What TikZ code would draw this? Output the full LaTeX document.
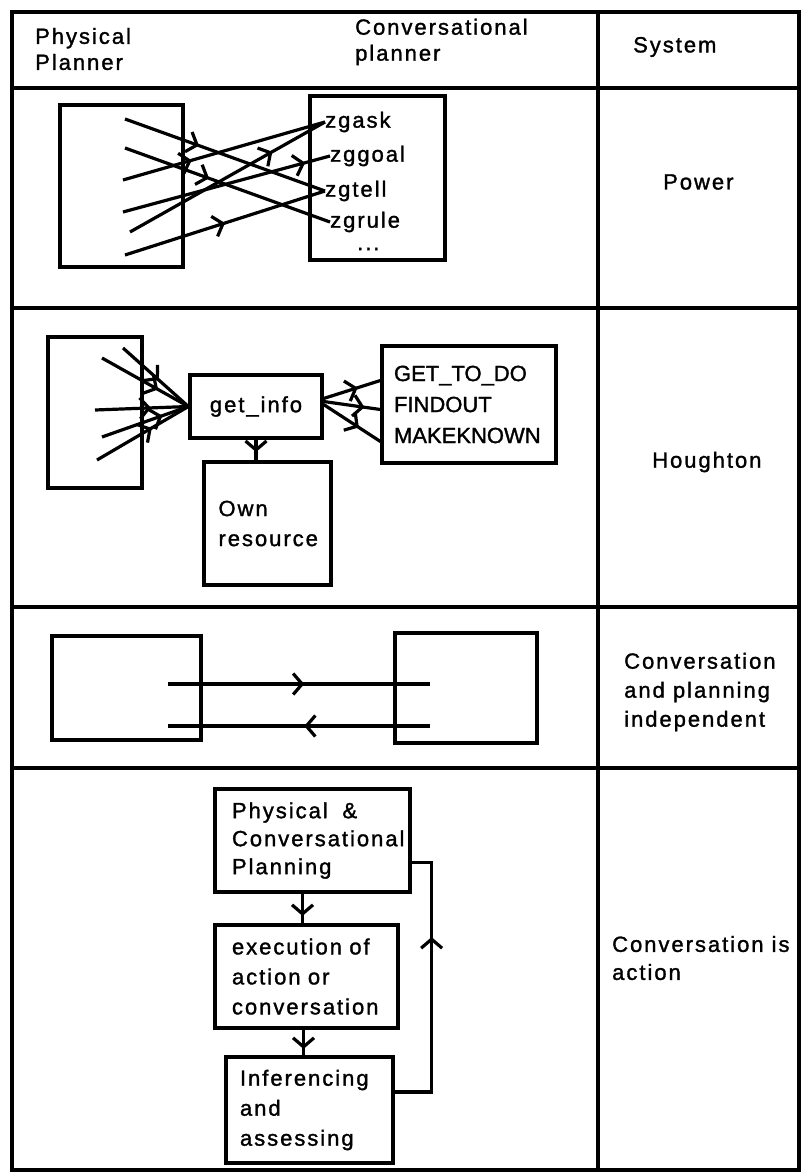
\documentclass[tikz,border=0pt]{standalone}
\usepackage{fontspec}
\newfontfamily\tabfont[LetterSpace=9, FakeBold=1.4]{Liberation Sans}
\newfontfamily\tabcond[FakeBold=1.4]{Liberation Sans}
\definecolor{tabInk}{RGB}{0, 0, 0}
\usetikzlibrary{arrows.meta, decorations.markings, positioning}
\tikzset{
  tabline/.style={line width=3.4pt, draw=tabInk},
  celltext/.style={anchor=west, inner sep=0pt, align=left, text=tabInk, font=\tabfont\fontsize{22}{29}\selectfont},
  plainbox/.style={rectangle, draw=tabInk, line width=3.2pt, align=left, text=tabInk, font=\tabfont\fontsize{22}{30}\selectfont},
  flowline/.style={line width=3.2pt, draw=tabInk, postaction={decorate},
    decoration={markings, mark=at position #1 with {\arrow{Straight Barb[length=9pt, width=21pt, line width=3.2pt]}}}},
  flowline/.default=0.5,
}

\begin{document}
\begin{tikzpicture}[x=1pt, y=-1pt]
  \useasboundingbox (0,0) rectangle (802,1174);

  % table
  \draw[tabline] (12,12) rectangle (799,1170);
  \draw[tabline] (12,88) -- (799,88);
  \draw[tabline] (12,308) -- (799,308);
  \draw[tabline] (12,607) -- (799,607);
  \draw[tabline] (12,768) -- (799,768);
  \draw[tabline] (598,12) -- (598,1170);

  % header
  \node[celltext, font=\tabfont\fontsize{22}{26}\selectfont] (phys) at (35,49) {Physical\\Planner};
  \node[celltext, font=\tabfont\fontsize{22}{26}\selectfont] (conv) at (355,42) {Conversational\\planner};
  \node[celltext] (sys) at (633,47) {System};

  % Power
  \node[plainbox, minimum width=123pt, minimum height=162pt] (pp1) at (121.5,186) {};
  \node[plainbox, minimum width=135pt, minimum height=164pt] (cp1) at (377.5,178) {};
  \node[celltext] (ask) at (325,122) {zgask};
  \node[celltext] (goal) at (330,156) {zggoal};
  \node[celltext] (tell) at (325,191) {zgtell};
  \node[celltext] (grule) at (330,222) {zgrule};
  \node[celltext] (more) at (357,249) {...};
  \coordinate (u1) at (125,119);
  \coordinate (u2) at (125,148);
  \coordinate (u3) at (123,180);
  \coordinate (u4) at (123,212);
  \coordinate (u5) at (130,232);
  \coordinate (u6) at (125,255);
  \draw[flowline=0.37] (u1) -- (tell.west);
  \draw[flowline=0.41] (u2) -- (grule.west);
  \draw[flowline=0.34] (u3) -- (ask.west);
  \draw[flowline=0.88] (u4) -- (goal.west);
  \draw[flowline=0.73] (u5) -- (ask.west);
  \draw[flowline=0.5] (u6) -- (tell.west);
  \node[celltext] (power) at (663,182) {Power};

  % Houghton
  \node[plainbox, minimum width=94pt, minimum height=151pt] (pp2) at (95,412.5) {};
  \node[plainbox, minimum width=132pt, minimum height=63pt, align=center] (info) at (256,406.5) {get\_info};
  \node[plainbox, minimum width=127pt, minimum height=123pt, text width=98pt] (own) at (267.5,523.5) {Own\\resource};
  \node[plainbox, minimum width=174pt, minimum height=117pt, text width=150pt,
        font=\tabcond\fontsize{22}{31}\selectfont] (todo) at (469,404.5) {GET\_TO\_DO\\FINDOUT\\MAKEKNOWN};
  \coordinate (h1) at (123,348);
  \coordinate (h2) at (102,358);
  \coordinate (h3) at (95,410);
  \coordinate (h4) at (102,437);
  \coordinate (h5) at (97,460);
  \draw[flowline=0.55] (h1) -- (info.west);
  \draw[flowline=0.65] (h2) -- (info.west);
  \draw[flowline=0.6] (h3) -- (info.west);
  \draw[flowline=0.7] (h4) -- (info.west);
  \draw[flowline=0.6] (h5) -- (info.west);
  \coordinate (o1) at ([yshift=8pt]info.east);
  \coordinate (o2) at ([yshift=5pt]info.east);
  \coordinate (o3) at ([yshift=2pt]info.east);
  \coordinate (t1) at ([yshift=24pt]todo.west);
  \coordinate (t2) at ([yshift=-5pt]todo.west);
  \coordinate (t3) at ([yshift=-37pt]todo.west);
  \draw[flowline=0.6] (o1) -- (t1);
  \draw[flowline=0.72] (o2) -- (t2);
  \draw[flowline=0.62] (o3) -- (t3);
  \draw[flowline=0.6] (info.south) -- (info.south |- own.north);
  \node[celltext] (hough) at (652,462) {Houghton};

  % independent
  \node[plainbox, minimum width=149pt, minimum height=104pt] (pp3) at (126.5,688) {};
  \node[plainbox, minimum width=142pt, minimum height=110pt] (cp3) at (466,688) {};
  \coordinate (go3) at (168,684);
  \coordinate (in3) at (430,684);
  \coordinate (back3) at (430,726);
  \coordinate (ret3) at (168,726);
  \draw[flowline=0.52] (go3) -- (in3);
  \draw[flowline=0.48] (back3) -- (ret3);
  \node[celltext] (indep) at (624,692) {Conversation\\and planning\\independent};

  % action
  \node[plainbox, minimum width=195pt, minimum height=103pt, text width=161pt,
        font=\tabfont\fontsize{22}{28}\selectfont] (plan) at (312.5,840.5) {Physical \ \&\\Conversational\\Planning};
  \node[plainbox, minimum width=183pt, minimum height=103pt, text width=149pt] (exec) at (306.5,976.5) {execution of\\action or\\conversation};
  \node[plainbox, minimum width=167pt, minimum height=106pt, text width=139pt] (infer) at (309.5,1110) {Inferencing\\and\\assessing};
  \coordinate (pa) at ([xshift=-10pt]plan.south);
  \coordinate (pb) at ([xshift=-3pt]exec.south);
  \draw[flowline=0.75] (pa) -- (pa |- exec.north);
  \draw[flowline=0.75] (pb) -- (pb |- infer.north);
  \coordinate (fb1) at ([yshift=18pt]infer.east);
  \coordinate (fb2) at ([yshift=-22pt]plan.east);
  \draw[flowline=0.67] (fb1) -- ++(37,0) |- (fb2);
  \node[celltext, font=\tabfont\fontsize{22}{28}\selectfont] (isact) at (612,958) {Conversation is\\action};
\end{tikzpicture}
\end{document}
